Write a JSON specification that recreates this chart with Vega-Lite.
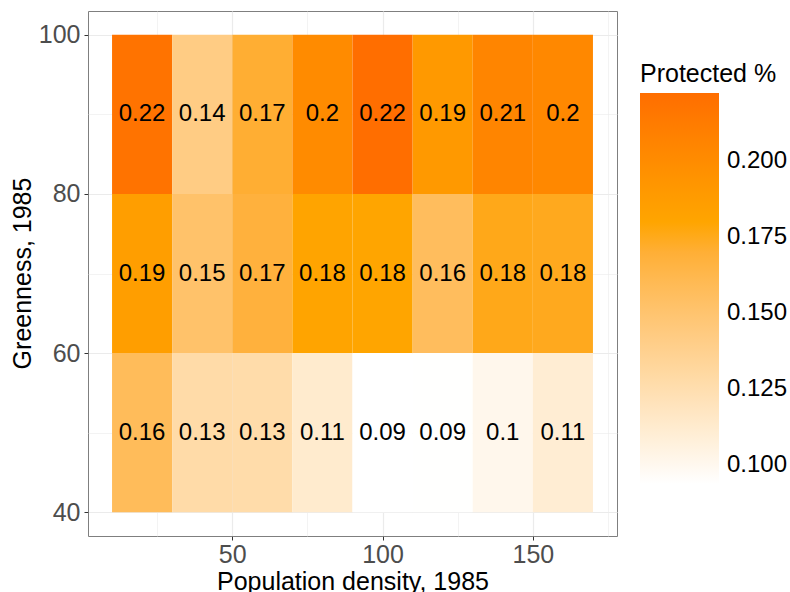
{
  "$schema": "https://vega.github.io/schema/vega-lite/v6.json",
  "width": 529,
  "height": 525,
  "autosize": {"type": "none"},
  "padding": {"left": 88, "top": 11, "right": 173, "bottom": 56},
  "config": {
    "font": "Liberation Sans",
    "view": {"stroke": "#7F7F7F", "strokeWidth": 1}
  },
  "data": {
    "values": [
      {"pd_lo": 10, "pd_hi": 30, "pd": 20, "g_lo": 80, "g_hi": 100, "g": 90, "protected": 0.219},
      {"pd_lo": 30, "pd_hi": 50, "pd": 40, "g_lo": 80, "g_hi": 100, "g": 90, "protected": 0.142},
      {"pd_lo": 50, "pd_hi": 70, "pd": 60, "g_lo": 80, "g_hi": 100, "g": 90, "protected": 0.171},
      {"pd_lo": 70, "pd_hi": 90, "pd": 80, "g_lo": 80, "g_hi": 100, "g": 90, "protected": 0.201},
      {"pd_lo": 90, "pd_hi": 110, "pd": 100, "g_lo": 80, "g_hi": 100, "g": 90, "protected": 0.2224},
      {"pd_lo": 110, "pd_hi": 130, "pd": 120, "g_lo": 80, "g_hi": 100, "g": 90, "protected": 0.19},
      {"pd_lo": 130, "pd_hi": 150, "pd": 140, "g_lo": 80, "g_hi": 100, "g": 90, "protected": 0.206},
      {"pd_lo": 150, "pd_hi": 170, "pd": 160, "g_lo": 80, "g_hi": 100, "g": 90, "protected": 0.203},
      {"pd_lo": 10, "pd_hi": 30, "pd": 20, "g_lo": 60, "g_hi": 80, "g": 70, "protected": 0.186},
      {"pd_lo": 30, "pd_hi": 50, "pd": 40, "g_lo": 60, "g_hi": 80, "g": 70, "protected": 0.152},
      {"pd_lo": 50, "pd_hi": 70, "pd": 60, "g_lo": 60, "g_hi": 80, "g": 70, "protected": 0.168},
      {"pd_lo": 70, "pd_hi": 90, "pd": 80, "g_lo": 60, "g_hi": 80, "g": 70, "protected": 0.181},
      {"pd_lo": 90, "pd_hi": 110, "pd": 100, "g_lo": 60, "g_hi": 80, "g": 70, "protected": 0.18},
      {"pd_lo": 110, "pd_hi": 130, "pd": 120, "g_lo": 60, "g_hi": 80, "g": 70, "protected": 0.157},
      {"pd_lo": 130, "pd_hi": 150, "pd": 140, "g_lo": 60, "g_hi": 80, "g": 70, "protected": 0.177},
      {"pd_lo": 150, "pd_hi": 170, "pd": 160, "g_lo": 60, "g_hi": 80, "g": 70, "protected": 0.176},
      {"pd_lo": 10, "pd_hi": 30, "pd": 20, "g_lo": 40, "g_hi": 60, "g": 50, "protected": 0.158},
      {"pd_lo": 30, "pd_hi": 50, "pd": 40, "g_lo": 40, "g_hi": 60, "g": 50, "protected": 0.128},
      {"pd_lo": 50, "pd_hi": 70, "pd": 60, "g_lo": 40, "g_hi": 60, "g": 50, "protected": 0.127},
      {"pd_lo": 70, "pd_hi": 90, "pd": 80, "g_lo": 40, "g_hi": 60, "g": 50, "protected": 0.113},
      {"pd_lo": 90, "pd_hi": 110, "pd": 100, "g_lo": 40, "g_hi": 60, "g": 50, "protected": 0.0938},
      {"pd_lo": 110, "pd_hi": 130, "pd": 120, "g_lo": 40, "g_hi": 60, "g": 50, "protected": 0.094},
      {"pd_lo": 130, "pd_hi": 150, "pd": 140, "g_lo": 40, "g_hi": 60, "g": 50, "protected": 0.101},
      {"pd_lo": 150, "pd_hi": 170, "pd": 160, "g_lo": 40, "g_hi": 60, "g": 50, "protected": 0.111}
    ]
  },
  "layer": [
    {
      "mark": {"type": "rect"},
      "encoding": {
        "x": {
          "field": "pd_lo", "type": "quantitative",
          "scale": {"domain": [2, 178], "nice": false, "zero": false},
          "axis": {
            "title": "Population density, 1985",
            "values": [25, 50, 75, 100, 125, 150, 175],
            "labelExpr": "datum.value % 50 === 0 ? datum.label : ''",
            "labelFlush": false,
            "labelOverlap": false,
            "domain": false,
            "grid": true,
            "gridColor": "#EBEBEB",
            "gridWidth": {"condition": {"test": "datum.value % 50 === 0", "value": 1.2}, "value": 0.6},
            "tickSize": 4,
            "tickColor": "#333333",
            "tickWidth": 1,
            "tickOpacity": {"condition": {"test": "datum.value % 50 === 0", "value": 1}, "value": 0},
            "labelColor": "#4D4D4D",
            "labelFontSize": 25,
            "labelPadding": 2,
            "titleFontSize": 25,
            "titleFontWeight": "normal",
            "titleColor": "#000000",
            "titleBaseline": "alphabetic",
            "titleY": 53
          }
        },
        "x2": {"field": "pd_hi"},
        "y": {
          "field": "g_lo", "type": "quantitative",
          "scale": {"domain": [37, 103], "nice": false, "zero": false},
          "axis": {
            "title": "Greenness, 1985",
            "values": [40, 50, 60, 70, 80, 90, 100],
            "labelExpr": "datum.value % 20 === 0 ? datum.label : ''",
            "labelFlush": false,
            "labelOverlap": false,
            "domain": false,
            "grid": true,
            "gridColor": "#EBEBEB",
            "gridWidth": {"condition": {"test": "datum.value % 20 === 0", "value": 1.2}, "value": 0.6},
            "tickSize": 4,
            "tickColor": "#333333",
            "tickWidth": 1,
            "tickOpacity": {"condition": {"test": "datum.value % 20 === 0", "value": 1}, "value": 0},
            "labelColor": "#4D4D4D",
            "labelFontSize": 25,
            "labelPadding": 4,
            "titleFontSize": 25,
            "titleFontWeight": "normal",
            "titleColor": "#000000",
            "titleX": -66,
            "titleY": 262,
            "titleAngle": -90,
            "titleBaseline": "middle"
          }
        },
        "y2": {"field": "g_hi"},
        "color": {
          "field": "protected", "type": "quantitative",
          "scale": {
            "domain": [0.0938, 0.18, 0.2224],
            "range": ["#FFFFFF", "#FFA500", "#FF6E00"],
            "interpolate": "lab"
          },
          "legend": {
            "title": "Protected %",
            "orient": "none",
            "legendX": 552,
            "legendY": 51,
            "direction": "vertical",
            "gradientLength": 391,
            "gradientThickness": 79,
            "gradientStrokeWidth": 0,
            "values": [0.1, 0.125, 0.15, 0.175, 0.2],
            "format": ".3f",
            "labelFontSize": 24,
            "labelColor": "#000000",
            "labelOffset": 8,
            "titleFontSize": 25,
            "titleFontWeight": "normal",
            "titleColor": "#000000",
            "titlePadding": 6
          }
        }
      }
    },
    {
      "mark": {"type": "text", "fontSize": 24, "color": "#000000"},
      "encoding": {
        "x": {"field": "pd", "type": "quantitative"},
        "y": {"field": "g", "type": "quantitative"},
        "text": {"field": "protected", "type": "quantitative", "format": ".2~f"}
      }
    }
  ]
}
